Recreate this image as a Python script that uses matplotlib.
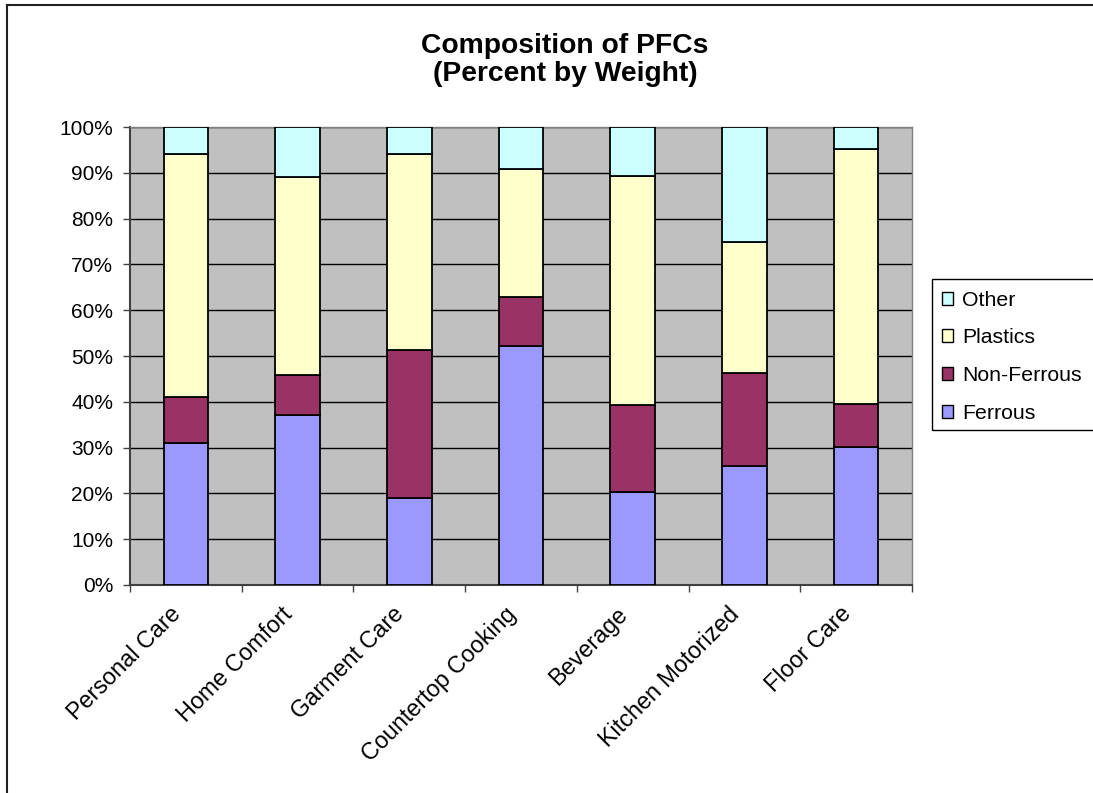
import matplotlib.pyplot as plt
import matplotlib.patches as mpatches
import matplotlib.lines as mlines
import numpy as np

plt.rcParams['font.family'] = ['Liberation Sans', 'DejaVu Sans']

categories = ['Personal Care', 'Home Comfort', 'Garment Care', 'Countertop Cooking',
              'Beverage', 'Kitchen Motorized', 'Floor Care']
ferrous = [31.0, 37.2, 19.1, 52.1, 20.3, 25.9, 30.1]
non_ferrous = [10.1, 8.6, 32.2, 10.7, 18.9, 20.4, 9.5]
plastics = [53.0, 43.2, 42.8, 28.1, 50.2, 28.6, 55.6]
other = [5.9, 11.0, 5.9, 9.1, 10.6, 25.1, 4.8]

series = [('Ferrous', ferrous, '#9999FF'),
          ('Non-Ferrous', non_ferrous, '#993366'),
          ('Plastics', plastics, '#FFFFCC'),
          ('Other', other, '#CCFFFF')]

W, H = 1093, 793
fig = plt.figure(figsize=(W / 100, H / 100), dpi=100)
ax = fig.add_axes([130 / W, 1 - 585 / H, (912 - 130) / W, (585 - 127) / H])
ax.set_facecolor('#C0C0C0')

x = np.arange(len(categories))
bottom = np.zeros(len(categories))
handles = []
for name, vals, col in series:
    ax.bar(x, vals, bottom=bottom, width=0.4, color=col, edgecolor='black',
           linewidth=1.3, zorder=3)
    bottom += np.array(vals)
    handles.append(mpatches.Patch(facecolor=col, edgecolor='black', linewidth=1, label=name))

ax.set_xlim(-0.5, len(categories) - 0.5)
ax.set_ylim(0, 100)
ax.set_yticks(np.arange(0, 101, 10))
ax.set_yticklabels(['%d%%' % v for v in range(0, 101, 10)], fontsize=15)
ax.yaxis.grid(True, color='black', linewidth=1, zorder=1)
ax.set_axisbelow(True)

# category ticks sit between the bars
ax.set_xticks(np.arange(-0.5, len(categories), 1.0))
ax.set_xticklabels([])
ax.tick_params(axis='x', length=5, color='#404040', width=1)
ax.tick_params(axis='y', length=5, color='#404040', width=1, pad=7)
for i, c in enumerate(categories):
    ax.text(i - 0.15, -3.8, c, rotation=45, ha='right', va='top', fontsize=16.8,
            rotation_mode='anchor')

for s in ['top', 'right']:
    ax.spines[s].set_color('#808080')
    ax.spines[s].set_linewidth(1)
for s in ['left', 'bottom']:
    ax.spines[s].set_color('#404040')
    ax.spines[s].set_linewidth(1.5)

fig.text(565 / W, 1 - 60 / H, 'Composition of PFCs\n(Percent by Weight)', ha='center',
         va='center', fontsize=20.3, fontweight='bold', linespacing=1.12)

leg = fig.legend(handles=handles[::-1], loc='upper left',
                 bbox_to_anchor=(930 / W, 1 - 279 / H), fontsize=15.3, frameon=False,
                 handlelength=0.55, handleheight=0.55,
                 handletextpad=0.4, borderpad=0.55, labelspacing=0.88, borderaxespad=0)

# legend box runs off the right edge of the chart
fig.patches.append(mpatches.Rectangle((932 / W, 1 - 430 / H), 200 / W, 151 / H,
                                      transform=fig.transFigure, fill=False,
                                      edgecolor='black', linewidth=1))

# outer chart border (only top and left edges fall inside the picture)
fig.lines.append(mlines.Line2D([7 / W, 7 / W], [0, 1 - 5 / H], transform=fig.transFigure,
                               color='#202020', linewidth=1.5))
fig.lines.append(mlines.Line2D([7 / W, 1], [1 - 5 / H, 1 - 5 / H], transform=fig.transFigure,
                               color='#202020', linewidth=1.5))

fig.savefig('out.png', dpi=100)
